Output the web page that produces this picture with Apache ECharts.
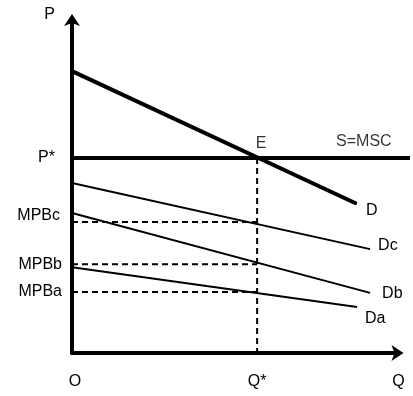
<!DOCTYPE html>
<html><head><meta charset="utf-8">
<script src="https://cdn.jsdelivr.net/npm/echarts@6/dist/echarts.min.js"></script>
<style>html,body{margin:0;padding:0;background:#fff}#c{width:413px;height:396px}</style>
</head><body><div id="c"></div>
<script>
// ---- data (Q on x, P on y, arbitrary units) ----
const qStar = 5.67;
const pStar = 5.84;
const mpbNames = ['MPBc', 'MPBb', 'MPBa'];
const mpbValues = [3.92, 2.66, 1.83];
const xTickNames = ['O', 'Q*', 'Q'];
const xTickValues = [0, qStar, 10];
const curveD  = [[0, 8.44], [8.67, 4.49]];
const curveDc = [[0, 5.09], [9.13, 3.11]];
const curveDb = [[0, 4.19], [9.13, 1.80]];
const curveDa = [[0, 2.57], [8.73, 1.38]];
const supplyS = [[0, pStar], [10.35, pStar]];
const sLabelQ = 8.94;

const FONT = "'Liberation Sans', Arial, sans-serif";
const yTickValues = [pStar].concat(mpbValues);
const yTickNames = ['P*'].concat(mpbNames);
const yRich = ['p', 'c', 'n', 'n'];
const xRich = ['o', 'n', 'n'];

function findIdx(arr, v) {
  for (let i = 0; i < arr.length; i++) if (Math.abs(arr[i] - v) < 1e-6) return i;
  return -1;
}

const thin = { color: '#000', width: 2 };
const dashed = { color: '#000', width: 2, type: [6, 4] };

function lineSeries(name, data, style, label, off) {
  return {
    type: 'line', name: name, data: data, symbol: 'none', clip: false, silent: true,
    lineStyle: style,
    endLabel: label ? { show: true, formatter: label, color: '#000', fontSize: 16, fontFamily: FONT, offset: off, distance: 5 } : undefined
  };
}

const sSeries = lineSeries('S', supplyS, { color: '#000', width: 4 });
sSeries.xAxisIndex = 1; sSeries.yAxisIndex = 1;
const series = [
  sSeries,
  lineSeries('D', curveD, { color: '#000', width: 4, cap: 'round' }, 'D', [6, 8]),
  lineSeries('Dc', curveDc, thin, 'Dc', [3, -4]),
  lineSeries('Db', curveDb, thin, 'Db', [7, 1]),
  lineSeries('Da', curveDa, thin, 'Da', [3, 12]),
  lineSeries('vQ', [[qStar, pStar], [qStar, 0]], dashed)
];
mpbValues.forEach(function (v, i) {
  series.push(lineSeries('h' + i, [[0, v], [qStar, v]], dashed));
});
series.push({
  type: 'scatter', symbolSize: 0, silent: true, clip: false,
  data: [
    { value: [qStar, pStar], label: { formatter: 'E', offset: [4, 0], distance: 6 } },
    { value: [sLabelQ, pStar], label: { formatter: 'S=MSC', distance: 8 } }
  ],
  label: { show: true, position: 'top', color: '#000', fontSize: 16, fontFamily: FONT }
});

const gridL = 72, gridR = 14.5, gridR2 = 2, gridT = 19, gridB = 43;
const xMax = 10;
const xMax2 = xMax * (413 - gridR2 - gridL) / (413 - gridR - gridL);

const chart = echarts.init(document.getElementById('c'));
chart.setOption({
  animation: false,
  backgroundColor: '#fff',
  grid: [
    { left: gridL, right: gridR, top: gridT, bottom: gridB },
    { left: gridL, right: gridR2, top: gridT, bottom: gridB }
  ],
  xAxis: [{
    type: 'value', min: 0, max: xMax, gridIndex: 0,
    axisLine: { show: true, onZero: false, symbol: ['none', 'arrow'], symbolSize: [12, 12], symbolOffset: [0, 5], lineStyle: { color: '#000', width: 4 } },
    axisTick: { show: false }, splitLine: { show: false },
    axisLabel: {
      customValues: xTickValues, margin: 21, color: '#000', fontSize: 16, fontFamily: FONT,
      formatter: function (v) { const i = findIdx(xTickValues, v); return i < 0 ? '' : '{' + xRich[i] + '|' + xTickNames[i] + '}'; },
      rich: { o: { padding: [0, 0, 0, 6], fontSize: 16, fontFamily: FONT, color: '#000' }, n: { fontSize: 16, fontFamily: FONT, color: '#000' } }
    }
  }, {
    type: 'value', min: 0, max: xMax2, gridIndex: 1, show: false
  }],
  yAxis: [{
    type: 'value', min: 0, max: 10, gridIndex: 0,
    name: 'P', nameLocation: 'end', nameGap: -4,
    nameTextStyle: { color: '#000', fontSize: 16, fontFamily: FONT, align: 'right', padding: [0, 17, 0, 0] },
    axisLine: { show: true, onZero: false, symbol: ['none', 'arrow'], symbolSize: [12, 12], symbolOffset: [0, 5], lineStyle: { color: '#000', width: 4 } },
    axisTick: { show: false }, splitLine: { show: false },
    axisLabel: {
      customValues: yTickValues, margin: 10, color: '#000', fontSize: 16, fontFamily: FONT,
      formatter: function (v) { const i = findIdx(yTickValues, v); return i < 0 ? '' : '{' + yRich[i] + '|' + yTickNames[i] + '}'; },
      rich: {
        p: { padding: [0, 7, 0, 0], fontSize: 16, fontFamily: FONT, color: '#000' },
        c: { padding: [0, 2, 12, 0], fontSize: 16, fontFamily: FONT, color: '#000' },
        n: { fontSize: 16, fontFamily: FONT, color: '#000' }
      }
    }
  }, {
    type: 'value', min: 0, max: 10, gridIndex: 1, show: false
  }],
  series: series
});
</script>
</body></html>
